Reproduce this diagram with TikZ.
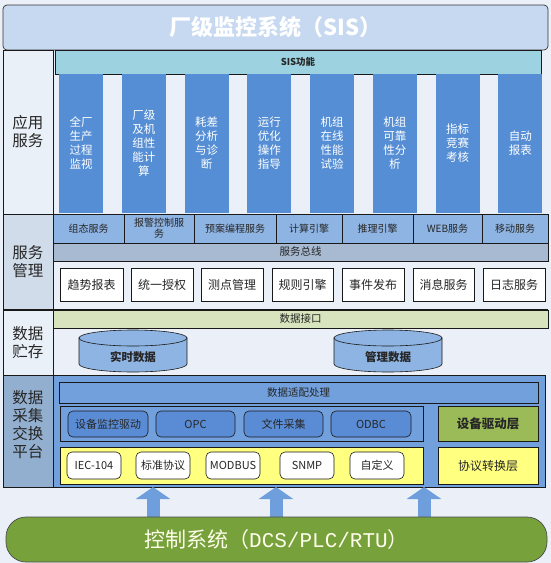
\documentclass[tikz,border=0pt]{standalone}
\usepackage{fontspec}
\setmainfont{Noto Sans CJK SC}
\newfontfamily\lmono{Liberation Mono}
\usetikzlibrary{arrows.meta}
\definecolor{bgc}{HTML}{EBF0F8}
\definecolor{titlec}{HTML}{C6D9F1}
\definecolor{siscyan}{HTML}{9DD3E0}
\definecolor{colblue}{HTML}{558ED5}
\definecolor{svcblue}{HTML}{8EB4E3}
\definecolor{busgray}{HTML}{A7BAD2}
\definecolor{ifgreen}{HTML}{D7E4BD}
\definecolor{acqblue}{HTML}{72A0DC}
\definecolor{drvblue}{HTML}{5A8CD5}
\definecolor{olive}{HTML}{9BBB59}
\definecolor{yel}{HTML}{FFFF80}
\definecolor{lightbg}{HTML}{EAF0F8}
\definecolor{svcgray}{HTML}{D0DCEA}
\definecolor{acqgray}{HTML}{93AFCF}
\definecolor{ctlgreen}{HTML}{76A13B}
\definecolor{arrblue}{HTML}{6E9EDC}
\begin{document}
\begin{tikzpicture}[x=1pt,y=-1pt,
  bx/.style={draw=black!90, line width=0.6pt, inner sep=0pt, outer sep=0pt, align=center, text=black!85},
  sz/.style 2 args={minimum width=#1pt, minimum height=#2pt},
  labfont/.style={font=\fontsize{15.5}{18}\selectfont, align=center, text=black!85},
  lab/.style={bx, fill=#1, labfont},
  col/.style={fill=colblue, inner sep=0pt, outer sep=0pt, minimum width=44pt, minimum height=139pt, text=white, align=center, font=\fontsize{11.5}{14}\selectfont},
  svc/.style={bx, fill=svcblue, minimum height=29pt, font=\fontsize{10}{11}\selectfont},
  wbox/.style={bx, fill=white, minimum height=33pt, font=\fontsize{12}{14}\selectfont},
  drv/.style={bx, fill=drvblue, rounded corners=5pt, minimum height=26pt, font=\fontsize{11}{13}\selectfont},
  prt/.style={bx, fill=white, rounded corners=5pt, minimum height=27pt, minimum width=54pt, font=\fontsize{11}{13}\selectfont},
  cylst/.style={draw=black!90, line width=0.6pt, fill=svcblue},
  uparrow/.style={draw=arrblue, line width=13pt, -{Triangle[width=34pt,length=12pt]}},
]
\useasboundingbox (0,0) rectangle (551,563);
\fill[bgc] (0,0) rectangle (551,563);

% title
\node[draw=black!80, line width=0.7pt, fill=titlec, rounded corners=4pt, sz={545}{45}, text=white, font=\fontsize{22}{26}\selectfont\bfseries] (title) at (275.5,27.5) {厂级监控系统（SIS）};

% left labels
\node[lab=lightbg, sz={50}{164}] (lapp) at (28,132) {应用\\服务};
\node[lab=svcgray, sz={50}{96}] (lsvc) at (28,262) {服务\\管理};
\node[lab=lightbg, sz={50}{65}] (lsto) at (28,342.5) {数据\\贮存};
\node[bx, fill=acqgray, sz={50}{112}, label={[labfont, yshift=6pt]center:数据\\采集\\交换\\平台}] (lacq) at (28,431) {};

% application row
\node[bx, fill=siscyan, sz={486}{24}, font=\fontsize{9.5}{11}\selectfont\bfseries] (sisbar) at (298,62) {SIS功能};
\node[col] (c1) at (81,143.5) {全厂\\生产\\过程\\监视};
\node[col] (c2) at (143.75,143.5) {厂级\\及机\\组性\\能计\\算};
\node[col] (c3) at (206.5,143.5) {耗差\\分析\\与诊\\断};
\node[col] (c4) at (269.25,143.5) {运行\\优化\\操作\\指导};
\node[col] (c5) at (332,143.5) {机组\\在线\\性能\\试验};
\node[col] (c6) at (394.75,143.5) {机组\\可靠\\性分\\析};
\node[col] (c7) at (457.5,143.5) {指标\\竞赛\\考核};
\node[col] (c8) at (520.25,143.5) {自动\\报表};

% service management row
\node[svc, minimum width=71pt] (s1) at (88.5,228.5) {组态服务};
\node[svc, minimum width=70pt] (s2) at (159,228.5) {报警控制服\\务};
\node[svc, minimum width=82pt] (s3) at (235,228.5) {预案编程服务};
\node[svc, minimum width=66pt] (s4) at (309,228.5) {计算引擎};
\node[svc, minimum width=71pt] (s5) at (377.5,228.5) {推理引擎};
\node[svc, minimum width=69pt] (s6) at (447.5,228.5) {WEB服务};
\node[svc, minimum width=66pt] (s7) at (515,228.5) {移动服务};
\node[bx, fill=busgray, sz={495}{18}, font=\fontsize{10.5}{12}\selectfont] (bus) at (300.5,252) {服务总线};
\node[wbox, minimum width=63pt] (w1) at (91.5,284.5) {趋势报表};
\node[wbox, minimum width=62pt] (w2) at (162,284.5) {统一授权};
\node[wbox, minimum width=62pt] (w3) at (232,284.5) {测点管理};
\node[wbox, minimum width=61pt] (w4) at (302.5,284.5) {规则引擎};
\node[wbox, minimum width=62pt] (w5) at (373,284.5) {事件发布};
\node[wbox, minimum width=61pt] (w6) at (443.5,284.5) {消息服务};
\node[wbox, minimum width=62pt] (w7) at (514,284.5) {日志服务};
\draw[line width=1.3pt, black!90] (lsto.north west) -- (548,310);

% data storage row
\node[bx, fill=ifgreen, sz={495}{18}, font=\fontsize{10.5}{12}\selectfont] (dif) at (300.5,319) {数据接口};
\filldraw[cylst] (79,338) -- (79,364) arc[start angle=180,end angle=0,x radius=54,y radius=8] -- (187,338) -- cycle;
\filldraw[cylst] (133,338) ellipse[x radius=54, y radius=8];
\node[font=\fontsize{11.5}{13}\selectfont\bfseries, text=black!85] (rtd) at (133,357) {实时数据};
\filldraw[cylst] (334,338) -- (334,364) arc[start angle=180,end angle=0,x radius=54,y radius=8] -- (442,338) -- cycle;
\filldraw[cylst] (388,338) ellipse[x radius=54, y radius=8];
\node[font=\fontsize{11.5}{13}\selectfont\bfseries, text=black!85] (mgd) at (388,357) {管理数据};

% acquisition platform
\coordinate (a1) at (153,500);
\coordinate (a2) at (276,500);
\coordinate (a3) at (424,500);
\node[bx, fill=acqblue, sz={492}{112}] (acq) at (299,431) {};
\node[bx, fill=acqblue, sz={479}{21}, font=\fontsize{10.5}{12}\selectfont] (adapt) at (298.5,392.5) {数据适配处理};
\node[bx, fill=acqblue, sz={363}{35}] (drvframe) at (241.5,423.5) {};
\node[drv, minimum width=80pt] (d1) at (108,424) {设备监控驱动};
\node[drv, minimum width=79pt] (d2) at (195.5,424) {OPC};
\node[drv, minimum width=79pt] (d3) at (283.5,424) {文件采集};
\node[drv, minimum width=80pt] (d4) at (371,424) {ODBC};
\node[bx, fill=olive, sz={100}{35}, font=\fontsize{12.5}{14}\selectfont\bfseries] (drvlayer) at (488,423.5) {设备驱动层};
\node[bx, fill=yel, sz={363}{37}] (prtframe) at (241.5,465.5) {};
\node[prt] (p1) at (94,465.5) {IEC-104};
\node[prt] (p2) at (163,465.5) {标准协议};
\node[prt] (p3) at (233,465.5) {MODBUS};
\node[prt] (p4) at (307,465.5) {SNMP};
\node[prt] (p5) at (377,465.5) {自定义};
\node[bx, fill=yel, sz={100}{37}, font=\fontsize{12}{14}\selectfont] (prtlayer) at (488,465.5) {协议转换层};

% control system and arrows
\node[draw=none, sz={541}{45}] (ctlpos) at (276.5,539.5) {};
\draw[uparrow] (ctlpos.center -| a1) -- (acq.south -| a1);
\draw[uparrow] (ctlpos.center -| a2) -- (acq.south -| a2);
\draw[uparrow] (ctlpos.center -| a3) -- (acq.south -| a3);
\node[draw=black!70, line width=0.7pt, fill=ctlgreen, rounded corners=20pt, sz={541}{45}, text=white!92!yellow, font=\fontsize{21}{24}\selectfont] (ctl) at (276.5,539.5) {控制系统（{\lmono DCS/PLC/RTU}）};
\end{tikzpicture}
\end{document}
